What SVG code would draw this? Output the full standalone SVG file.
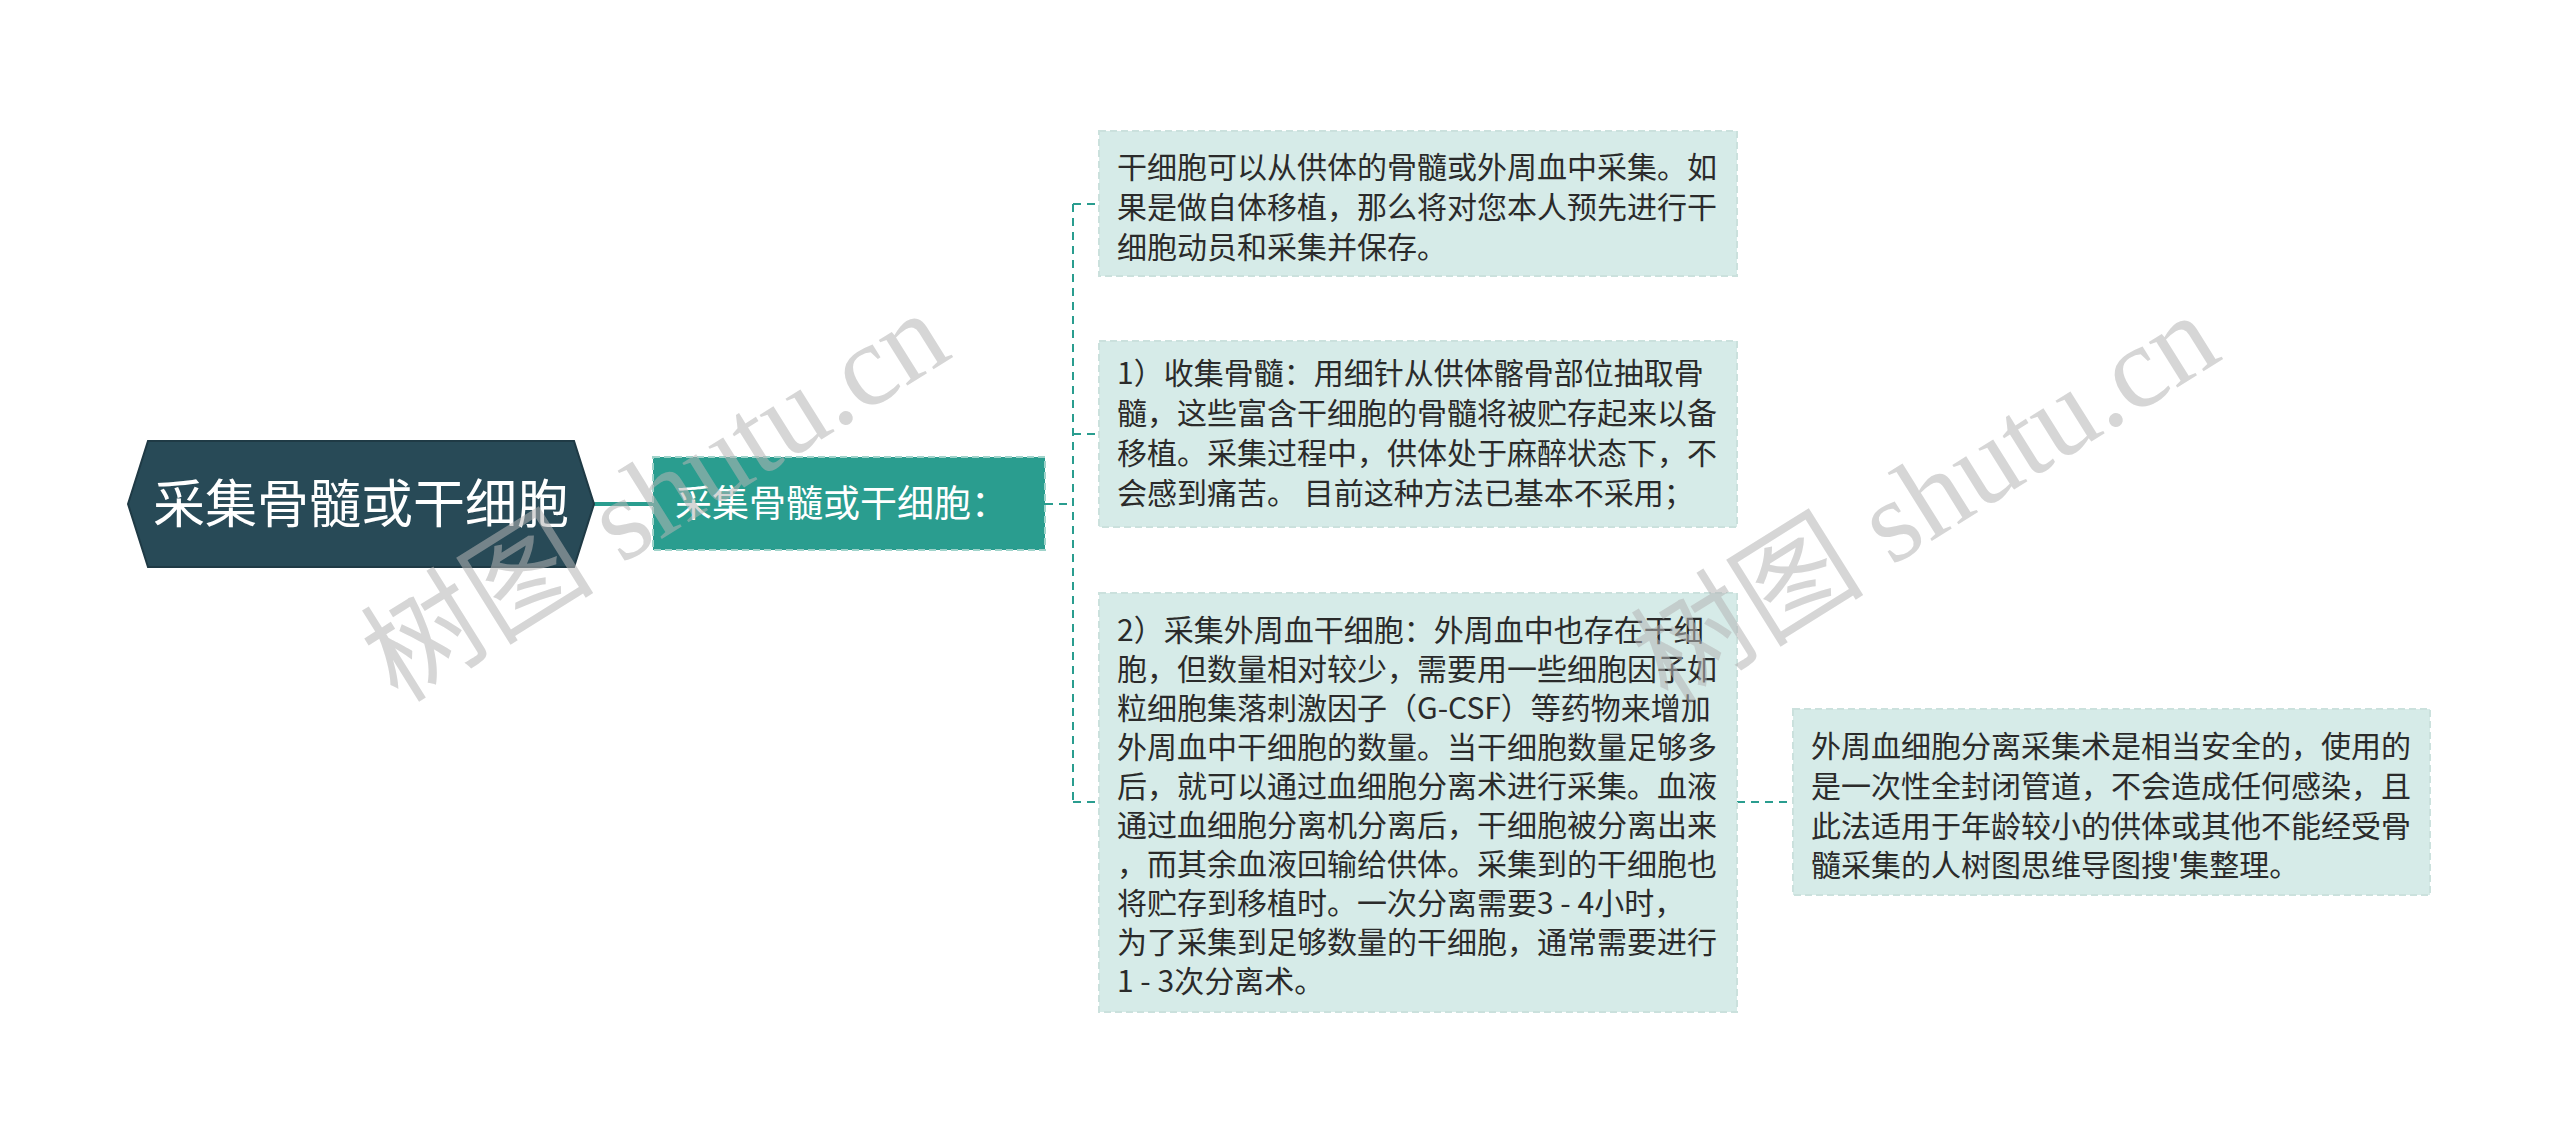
<svg xmlns="http://www.w3.org/2000/svg" width="2560" height="1143" viewBox="0 0 2560 1143">
<style>
.bg{fill:#ffffff}
.root{fill:#284a57;stroke:#1f3a45;stroke-width:2}
.main{fill:#2a9d8f;stroke:#9fd3ca;stroke-width:2;stroke-dasharray:7 4}
.leaf{fill:#d6ebe8;stroke:#cbe1dd;stroke-width:2;stroke-dasharray:7 4}
.t{font-family:"Noto Sans CJK SC","Noto Sans",sans-serif}
.rt{font-size:52px;fill:#ffffff}
.mt{font-size:37px;fill:#ffffff}
.lt{font-size:30px;fill:#2b2b2b}
.solid{fill:none;stroke:#2a9d8f;stroke-width:4}
.dash{fill:none;stroke:#2a9d8f;stroke-width:2;stroke-dasharray:8 6}
.wm{font-family:"Liberation Serif","Noto Sans CJK SC",serif;font-size:117px;fill:#b5b5b5;fill-opacity:0.55}
</style>
<rect class="bg" x="0" y="0" width="2560" height="1143"/>
<g id="connectors">
<line class="solid" x1="594" y1="504" x2="653" y2="504"/>
<path class="dash" d="M1045,504 H1073 M1073,204 V802 M1073,204 H1099 M1073,434 H1099 M1073,802 H1099 M1737,802 H1793"/>
</g>
<g id="root">
<polygon class="root" points="128,504 148,441 574,441 594,504 574,567 148,567"/>
<text class="t rt" x="361" y="523" text-anchor="middle">采集骨髓或干细胞</text>
</g>
<g id="main">
<rect class="main" x="653" y="457" width="392" height="93"/>
<text class="t mt" x="675" y="517">采集骨髓或干细胞：</text>
</g>
<g id="leaf1">
<rect class="leaf" x="1099" y="131" width="638" height="145"/>
<text class="t lt" x="1117" y="178">干细胞可以从供体的骨髓或外周血中采集。如</text>
<text class="t lt" x="1117" y="218">果是做自体移植，那么将对您本人预先进行干</text>
<text class="t lt" x="1117" y="258">细胞动员和采集并保存。</text>
</g>
<g id="leaf2">
<rect class="leaf" x="1099" y="341" width="638" height="186"/>
<text class="t lt" x="1117" y="384">1）收集骨髓：用细针从供体髂骨部位抽取骨</text>
<text class="t lt" x="1117" y="424">髓，这些富含干细胞的骨髓将被贮存起来以备</text>
<text class="t lt" x="1117" y="464">移植。采集过程中，供体处于麻醉状态下，不</text>
<text class="t lt" x="1117" y="504">会感到痛苦。 目前这种方法已基本不采用；</text>
</g>
<g id="leaf3">
<rect class="leaf" x="1099" y="593" width="638" height="419"/>
<text class="t lt" x="1117" y="641">2）采集外周血干细胞：外周血中也存在干细</text>
<text class="t lt" x="1117" y="680">胞，但数量相对较少，需要用一些细胞因子如</text>
<text class="t lt" x="1117" y="719">粒细胞集落刺激因子（G-CSF）等药物来增加</text>
<text class="t lt" x="1117" y="758">外周血中干细胞的数量。当干细胞数量足够多</text>
<text class="t lt" x="1117" y="797">后，就可以通过血细胞分离术进行采集。血液</text>
<text class="t lt" x="1117" y="836">通过血细胞分离机分离后，干细胞被分离出来</text>
<text class="t lt" x="1117" y="875">，而其余血液回输给供体。采集到的干细胞也</text>
<text class="t lt" x="1117" y="914">将贮存到移植时。一次分离需要3 - 4小时，</text>
<text class="t lt" x="1117" y="953">为了采集到足够数量的干细胞，通常需要进行</text>
<text class="t lt" x="1117" y="992">1 - 3次分离术。</text>
</g>
<g id="leaf4">
<rect class="leaf" x="1793" y="709" width="637" height="186"/>
<text class="t lt" x="1811" y="757">外周血细胞分离采集术是相当安全的，使用的</text>
<text class="t lt" x="1811" y="797">是一次性全封闭管道，不会造成任何感染，且</text>
<text class="t lt" x="1811" y="837">此法适用于年龄较小的供体或其他不能经受骨</text>
<text class="t lt" x="1811" y="876">髓采集的人树图思维导图搜'集整理。</text>
</g>
<g id="watermark">
<text class="wm" transform="translate(398,704) rotate(-32)">树图 shutu.cn</text>
<text class="wm" transform="translate(1668,706) rotate(-32)">树图 shutu.cn</text>
</g>
</svg>
